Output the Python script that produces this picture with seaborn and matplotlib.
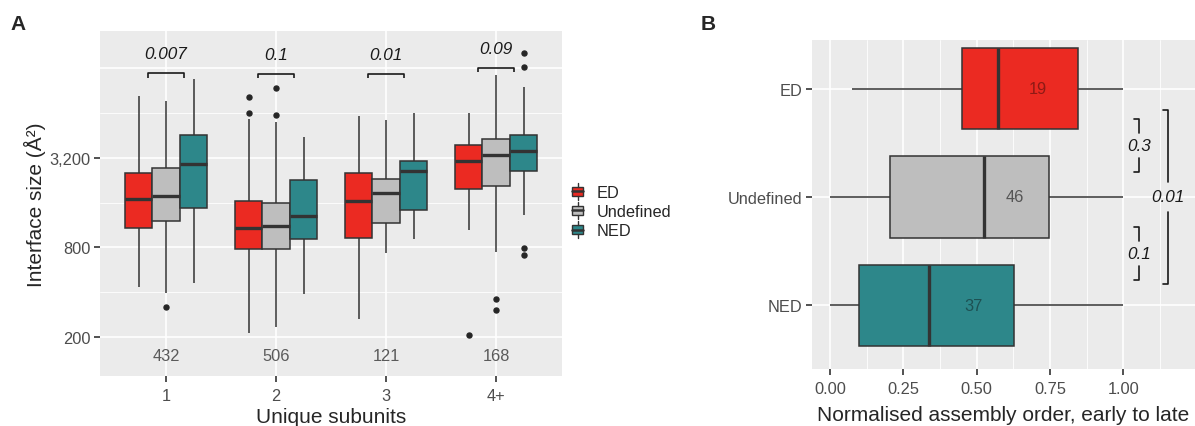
import numpy as np
import pandas as pd
import matplotlib
matplotlib.use("Agg")
import matplotlib.pyplot as plt
from matplotlib.lines import Line2D
from matplotlib.patches import Rectangle, Patch
from matplotlib.legend_handler import HandlerBase
from matplotlib.ticker import FixedLocator, NullFormatter
import seaborn as sns

sns.set_theme(style="white")
plt.rcParams["font.family"] = ["Liberation Sans", "DejaVu Sans"]

# ---------------------------------------------------------------- data
classes = ["ED", "Undefined", "NED"]
class_colors = ["#EB2A22", "#BEBEBE", "#2D878A"]
count_colors = ["#8E1A15", "#555555", "#1D5153"]

# Panel A: interface size per number of unique subunits (rows) and class (columns)
subunit_groups = ["1", "2", "3", "4+"]
a_whisker_lo = [[437, 395, 465], [214, 234, 388], [263, 734, 910], [1047, 748, 1328]]
a_q1 = [[1075, 1213, 1472], [781, 781, 916], [928, 1163, 1434], [1968, 2060, 2628]]
a_median = [[1683, 1765, 2900], [1075, 1108, 1302], [1651, 1850, 2628], [3053, 3335, 3548]]
a_q3 = [[2520, 2727, 4550], [1641, 1593, 2275], [2535, 2297, 3070], [3895, 4317, 4570]]
a_whisker_hi = [[8420, 7790, 10890], [5865, 5560, 4410], [6110, 5770, 6400], [6440, 11600, 9560]]
a_outlier_group = ["1", "2", "2", "2", "2", "4+", "4+", "4+", "4+", "4+", "4+", "4+"]
a_outlier_class = ["Undefined", "ED", "ED", "Undefined", "Undefined", "ED",
                   "Undefined", "Undefined", "NED", "NED", "NED", "NED"]
a_outlier_value = [320, 8290, 6470, 9470, 6200, 207, 363, 305, 16250, 13060, 789, 708]
a_counts = [432, 506, 121, 168]
a_pvalues = ["0.007", "0.1", "0.01", "0.09"]
a_bracket_level = [11900, 11800, 11760, 12900]

# Panel B: normalised assembly order per class
b_whisker_lo = [0.074, 0.0, 0.0]
b_q1 = [0.449, 0.205, 0.099]
b_median = [0.572, 0.525, 0.339]
b_q3 = [0.847, 0.748, 0.627]
b_whisker_hi = [1.0, 1.0, 1.0]
b_counts = [19, 46, 37]
b_count_x = [0.709, 0.631, 0.488]
b_pairs = [("ED", "Undefined"), ("Undefined", "NED"), ("ED", "NED")]
b_pvalues = ["0.3", "0.1", "0.01"]

# ---------------------------------------------------------------- helpers
N_RUN = 8
N_TOTAL = 6 + 3 * N_RUN
WHIS = (1.5 / (N_TOTAL - 1) * 100, (N_TOTAL - 2.5) / (N_TOTAL - 1) * 100)


def box_sample(lo, q1, med, q3, hi, low_out=(), high_out=()):
    """Sample whose quartiles, whisker ends and outliers are the given values."""
    low = sorted(list(low_out) + [lo] * (2 - len(low_out)))
    high = sorted(list(high_out) + [hi] * (2 - len(high_out)))
    return low + [lo] + [q1] * N_RUN + [med] * N_RUN + [q3] * N_RUN + [hi] + high


rows = []
for gi, g in enumerate(subunit_groups):
    for ci, c in enumerate(classes):
        outs = [v for og, oc, v in zip(a_outlier_group, a_outlier_class, a_outlier_value)
                if og == g and oc == c]
        lo_out = [v for v in outs if v < a_q1[gi][ci]]
        hi_out = [v for v in outs if v > a_q3[gi][ci]]
        vals = box_sample(a_whisker_lo[gi][ci], a_q1[gi][ci], a_median[gi][ci],
                          a_q3[gi][ci], a_whisker_hi[gi][ci], lo_out, hi_out)
        rows += [(g, c, v) for v in vals]
df_a = pd.DataFrame(rows, columns=["subunits", "cls", "size"])

rows = []
for ci, c in enumerate(classes):
    vals = box_sample(b_whisker_lo[ci], b_q1[ci], b_median[ci], b_q3[ci], b_whisker_hi[ci])
    rows += [(c, v) for v in vals]
df_b = pd.DataFrame(rows, columns=["cls", "order"])

# ---------------------------------------------------------------- style
PANEL_BG = "#EBEBEB"
LINE = "#333333"
TICK_TXT = "#4D4D4D"
SMALL = 11.8
TITLE = 15

box_kws = dict(
    width=0.75, saturation=1, linecolor=LINE, linewidth=1.1, showcaps=False,
    whis=WHIS, fliersize=3.6,
    flierprops=dict(marker="o", markerfacecolor="#262626", markeredgecolor="#262626"),
    medianprops=dict(color=LINE, linewidth=2.4),
)

fig = plt.figure(figsize=(11.95, 4.27), dpi=100)
W, H = 1195, 427
axA = fig.add_axes([100 / W, 50 / H, 462 / W, 345 / H])
axB = fig.add_axes([812 / W, 57 / H, 383 / W, 329 / H])


def ggplot_axes(ax):
    ax.set_facecolor(PANEL_BG)
    for s in ax.spines.values():
        s.set_visible(False)
    ax.set_axisbelow(True)
    ax.grid(True, which="major", color="white", linewidth=1.2)
    ax.grid(True, which="minor", color="white", linewidth=0.6)
    ax.tick_params(which="major", bottom=True, left=True, length=4, width=1.2,
                   color=LINE, labelcolor=TICK_TXT, labelsize=SMALL, pad=3)
    ax.tick_params(axis="x", which="major", pad=5)
    ax.tick_params(which="minor", bottom=False, left=False, length=0)


# ---------------------------------------------------------------- panel A
sns.boxplot(data=df_a, x="subunits", y="size", hue="cls", order=subunit_groups,
            hue_order=classes, palette=class_colors, log_scale=True, legend=False,
            ax=axA, **box_kws)
ggplot_axes(axA)
axA.set_xlim(-0.6, 3.6)
axA.set_ylim(109.3, 22880)
axA.yaxis.set_major_locator(FixedLocator([200, 800, 3200, 12800]))
axA.yaxis.set_minor_locator(FixedLocator([400, 1600, 6400]))
axA.set_yticklabels(["200", "800", "3,200", ""])
axA.yaxis.set_minor_formatter(NullFormatter())
axA.yaxis.get_major_ticks()[-1].tick1line.set_visible(False)
axA.set_xlabel("Unique subunits", fontsize=TITLE, labelpad=2.5)
axA.set_ylabel("Interface size (Å²)", fontsize=TITLE, labelpad=2)

for i, (n, p, lvl) in enumerate(zip(a_counts, a_pvalues, a_bracket_level)):
    axA.text(i, 149, str(n), ha="center", va="center", fontsize=SMALL, color="#5A5A5A")
    half = 0.164
    axA.plot([i - half, i - half, i + half, i + half],
             [lvl * 0.935, lvl, lvl, lvl * 0.935], color="#1A1A1A", lw=1.2,
             solid_capstyle="butt")
    axA.text(i, lvl * 1.2, p, ha="center", va="bottom", fontsize=12.3,
             style="italic", color="#1A1A1A")


# legend with ggplot-style boxplot keys
class BoxKey(HandlerBase):
    def create_artists(self, legend, orig_handle, xdescent, ydescent, width,
                       height, fontsize, trans):
        x0, y0 = -xdescent, -ydescent
        cx = x0 + width / 2
        bw = width * 0.85
        r = Rectangle((cx - bw / 2, y0 + height * 0.2), bw, height * 0.6,
                      facecolor=orig_handle.get_facecolor(), edgecolor=LINE,
                      linewidth=1.0, transform=trans)
        med = Line2D([cx - bw / 2, cx + bw / 2], [y0 + height / 2] * 2,
                     color=LINE, lw=1.8, transform=trans)
        w1 = Line2D([cx, cx], [y0 - height * 0.08, y0 + height * 0.2],
                    color=LINE, lw=1.0, transform=trans)
        w2 = Line2D([cx, cx], [y0 + height * 0.8, y0 + height * 1.08],
                    color=LINE, lw=1.0, transform=trans)
        return [r, med, w1, w2]


handles = [Patch(facecolor=c) for c in class_colors]
fig.legend(handles, classes, handler_map={Patch: BoxKey()}, loc="center left",
           bbox_to_anchor=(571 / W, 1 - 212 / H), frameon=False, fontsize=SMALL,
           handlelength=0.8, handleheight=1.0, handletextpad=0.75,
           labelspacing=0.2, borderpad=0, borderaxespad=0)

# ---------------------------------------------------------------- panel B
sns.boxplot(data=df_b, x="order", y="cls", hue="cls", order=classes,
            hue_order=classes, palette=class_colors, orient="h", legend=False,
            ax=axB, **box_kws)
ggplot_axes(axB)
axB.set_xlim(-0.061, 1.244)
axB.set_ylim(2.59, -0.45)
axB.xaxis.set_major_locator(FixedLocator([0, 0.25, 0.5, 0.75, 1.0]))
axB.xaxis.set_minor_locator(FixedLocator([0.125, 0.375, 0.625, 0.875, 1.125]))
axB.set_xticklabels(["0.00", "0.25", "0.50", "0.75", "1.00"])
axB.xaxis.set_minor_formatter(NullFormatter())
axB.set_xlabel("Normalised assembly order, early to late", fontsize=TITLE, labelpad=6)
axB.set_ylabel("")

for i, (n, x, col) in enumerate(zip(b_counts, b_count_x, count_colors)):
    axB.text(x, i, str(n), ha="center", va="center", fontsize=SMALL, color=col)

bracket_x = [1.054, 1.054, 1.153]
bracket_inset = [(0.28, 0.23), (0.275, 0.23), (0.196, 0.2)]
bracket_gap = [0.115, 0.115, 0.14]
for (a, b), p, bx, (ti, bi), gap in zip(b_pairs, b_pvalues, bracket_x,
                                         bracket_inset, bracket_gap):
    top = classes.index(a) + ti
    bot = classes.index(b) - bi
    mid = (top + bot) / 2
    stub = 0.017
    axB.plot([bx - stub, bx, bx], [top, top, mid - gap], color="#1A1A1A", lw=1.2)
    axB.plot([bx, bx, bx - stub], [mid + gap, bot, bot], color="#1A1A1A", lw=1.2)
    axB.text(bx, mid, p, ha="center", va="center", fontsize=12.3,
             style="italic", color="#1A1A1A")

# ---------------------------------------------------------------- panel tags
fig.text(18 / W, 1 - 25 / H, "A", fontsize=15, fontweight="bold", ha="center", va="center")
fig.text(708 / W, 1 - 25 / H, "B", fontsize=15, fontweight="bold", ha="center", va="center")

fig.savefig("out.png", dpi=100)
